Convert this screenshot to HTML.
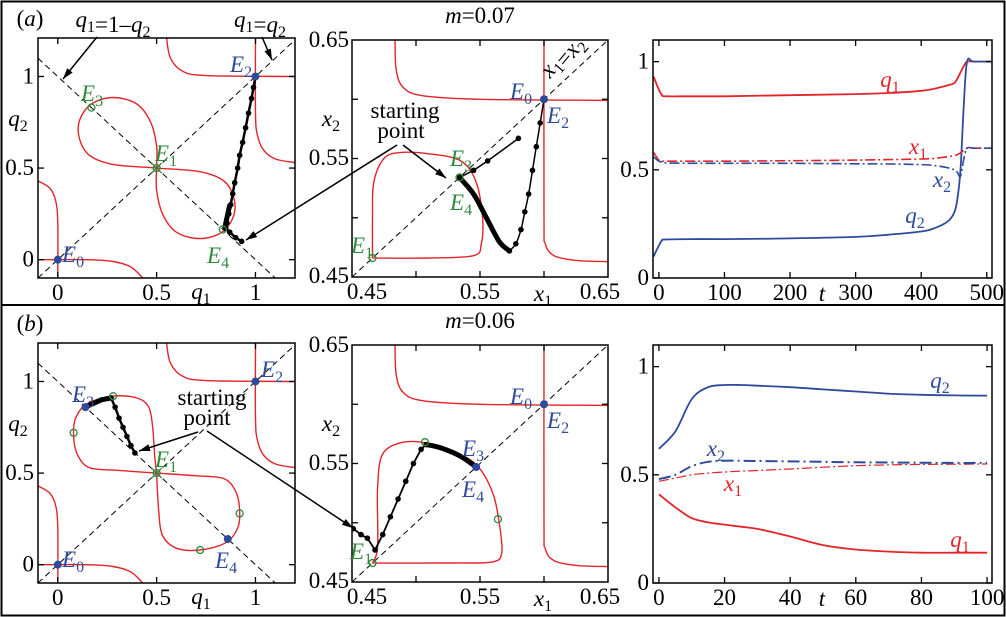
<!DOCTYPE html>
<html><head><meta charset="utf-8"><style>
body{margin:0;background:#fff}
svg{display:block}
svg text{font-family:"Liberation Serif","Times New Roman",serif !important}
</style></head><body>
<svg id="fig" width="1006" height="617" viewBox="0 0 1006 617" xmlns="http://www.w3.org/2000/svg">
<rect x="1.5" y="1.5" width="1003" height="614" fill="none" stroke="#000" stroke-width="2"/>
<line x1="1" y1="305" x2="1005" y2="305" stroke="#000" stroke-width="2"/>
</svg>
<script>
const RED='#e3242b',BLUE='#2e4a9c',GREEN='#2f8a3c';
// ---- data arrays ----
const aCornerBL1=[[0,-0.1],[0,0.2],[-0.01,0.32],[-0.04,0.39],[-0.1,0.43]];
const aCornerBL2=[[-0.1,0.0],[0.15,0],[0.28,-0.01],[0.37,-0.04],[0.43,-0.1]];
const aCornerTR1=[[0.55,1.21],[0.57,1.1],[0.63,1.03],[0.75,1.005],[1.2,1.0]];
const aCornerTR2=[[1.0,1.21],[1.0,0.8],[1.01,0.68],[1.04,0.6],[1.1,0.55],[1.2,0.53]];
const aLoopTop=[[0.5,0.5],[0.5,0.62],[0.47,0.75],[0.4,0.85],[0.28,0.885],[0.17,0.85],[0.11,0.76],[0.11,0.66],[0.16,0.57],[0.28,0.52],[0.5,0.5],[0.72,0.48],[0.84,0.43],[0.89,0.34],[0.89,0.24],[0.83,0.15],[0.72,0.115],[0.6,0.15],[0.53,0.25],[0.5,0.38],[0.5,0.5]];
const bLoop=[[0.5,0.5],[0.49,0.6],[0.48,0.75],[0.46,0.86],[0.4,0.91],[0.28,0.92],[0.15,0.88],[0.09,0.8],[0.08,0.7],[0.1,0.6],[0.16,0.53],[0.3,0.515],[0.5,0.5],[0.7,0.485],[0.84,0.47],[0.9,0.4],[0.92,0.3],[0.91,0.2],[0.85,0.12],[0.72,0.08],[0.6,0.09],[0.53,0.16],[0.51,0.3],[0.5,0.5]];
const aTraj=[[0.93,0.1],[0.9,0.12],[0.87,0.15],[0.85,0.17],[0.855,0.2],[0.865,0.25],[0.875,0.3],[0.885,0.36],[0.895,0.42],[0.91,0.5],[0.92,0.57],[0.935,0.64],[0.95,0.72],[0.965,0.8],[0.98,0.88],[0.99,0.94],[1,1]];
const bTraj=[[0.39,0.61],[0.37,0.65],[0.35,0.7],[0.33,0.75],[0.31,0.8],[0.29,0.86],[0.27,0.91],[0.22,0.9],[0.18,0.88],[0.14,0.86]];
// panel 2
const aL2=[[0.466,0.466],[0.466,0.5],[0.467,0.53],[0.475,0.55],[0.4875,0.555],[0.51,0.554],[0.535,0.548],[0.547,0.53],[0.552,0.5],[0.551,0.478],[0.545,0.468],[0.51,0.466],[0.466,0.466]];
const bL2=[[0.466,0.466],[0.47,0.48],[0.47,0.53],[0.474,0.558],[0.49,0.568],[0.51,0.567],[0.53,0.56],[0.548,0.548],[0.56,0.525],[0.565,0.5],[0.567,0.475],[0.56,0.467],[0.53,0.466],[0.466,0.466]];
const p2TL=[[0.4836,0.65],[0.4845,0.625],[0.49,0.61],[0.505,0.603],[0.55,0.6],[0.65,0.599]];
const p2BR=[[0.6,0.65],[0.6,0.5],[0.601,0.478],[0.608,0.468],[0.625,0.464],[0.65,0.463]];
const aTraj2a=[[0.58,0.567],[0.556,0.548],[0.545,0.54],[0.534,0.534]];
const aTraj2b=[[0.534,0.534],[0.545,0.52],[0.555,0.5],[0.565,0.48],[0.573,0.472],[0.578,0.478],[0.582,0.49],[0.585,0.505],[0.588,0.52],[0.591,0.54],[0.594,0.56],[0.597,0.58],[0.6,0.6]];
const bTraj2=[[0.451,0.495],[0.457,0.49],[0.462,0.487],[0.468,0.477],[0.474,0.49],[0.48,0.505],[0.486,0.52],[0.492,0.535],[0.498,0.55],[0.504,0.562],[0.508,0.566],[0.52,0.563],[0.535,0.556],[0.547,0.547]];
// panel 3 (a)
const tA=[-8,0,5,10,50,100,200,300,350,400,420,440,450,455,460,465,470,480,508];
const q1A=[0.93,0.87,0.845,0.84,0.84,0.84,0.845,0.85,0.855,0.865,0.875,0.89,0.9,0.92,0.95,0.98,1.0,1.0,1.0];
const q2A=[0.1,0.15,0.175,0.178,0.18,0.18,0.183,0.19,0.2,0.215,0.23,0.26,0.3,0.36,0.5,0.8,1.0,1.0,1.0];
const x1A=[0.58,0.545,0.54,0.54,0.54,0.54,0.542,0.545,0.547,0.55,0.553,0.56,0.565,0.57,0.578,0.59,0.6,0.6,0.6];
const x2A=[0.56,0.54,0.535,0.532,0.53,0.53,0.53,0.528,0.527,0.524,0.52,0.51,0.5,0.49,0.47,0.55,0.6,0.6,0.6];
// panel 3 (b)
const tB=[0,5,10,15,20,25,30,40,50,60,70,80,90,100];
const q1B=[0.41,0.35,0.3,0.28,0.27,0.26,0.25,0.215,0.175,0.155,0.145,0.14,0.14,0.14];
const q2B=[0.62,0.7,0.85,0.905,0.915,0.915,0.912,0.905,0.895,0.885,0.875,0.87,0.867,0.866];
const x1B=[0.47,0.485,0.5,0.508,0.513,0.517,0.52,0.527,0.535,0.542,0.546,0.548,0.549,0.55];
const x2B=[0.48,0.5,0.54,0.56,0.565,0.565,0.564,0.562,0.56,0.558,0.557,0.556,0.555,0.555];

const svg=document.getElementById('fig');
const NS='http://www.w3.org/2000/svg';
function el(tag,attrs,parent){const e=document.createElementNS(NS,tag);for(const k in attrs)e.setAttribute(k,attrs[k]);(parent||svg).appendChild(e);return e;}
function smooth(pts){let d='M'+pts[0][0].toFixed(1)+','+pts[0][1].toFixed(1);for(let i=0;i<pts.length-1;i++){const p0=pts[i-1]||pts[i],p1=pts[i],p2=pts[i+1],p3=pts[i+2]||p2;const c1=[p1[0]+(p2[0]-p0[0])/6,p1[1]+(p2[1]-p0[1])/6],c2=[p2[0]-(p3[0]-p1[0])/6,p2[1]-(p3[1]-p1[1])/6];d+='C'+c1.map(v=>v.toFixed(1))+' '+c2.map(v=>v.toFixed(1))+' '+p2.map(v=>v.toFixed(1));}return d;}
function lab(x,y,html,anchor,cls,color,name){const t=el('text',{x:x,y:y,'text-anchor':anchor||'middle',fill:color||'#000',style:"font-family:'Liberation Serif',serif;font-size:23px"+(cls&&cls.indexOf('it')>=0?';font-style:italic':'')});t.innerHTML=html;return t;}
function sub(v,s){return '<tspan style="font-style:italic">'+v+'</tspan><tspan style="font-size:16px" dy="5">'+s+'</tspan><tspan dy="-5"></tspan>';}

function panel(o){
  const g=el('g',{});
  
  
  const sx=v=>o.px0+(v-o.x0)*(o.px1-o.px0)/(o.x1-o.x0);
  const sy=v=>o.py1-(v-o.y0)*(o.py1-o.py0)/(o.y1-o.y0);
  const id='c'+o.name;
  const cp=el('clipPath',{id:id},g);el('rect',{x:o.px0,y:o.py0,width:o.px1-o.px0,height:o.py1-o.py0},cp);
  const inner=el('g',{'clip-path':'url(#'+id+')'},g);
  o.xt.forEach((v,i)=>{const x=sx(v);
    const t1=el('line',{x1:x,y1:o.py1,x2:x,y2:o.py1-6,stroke:'#000','stroke-width':1.3},g);
    el('line',{x1:x,y1:o.py0,x2:x,y2:o.py0+6,stroke:'#000','stroke-width':1.3},g);
    if(o.xl[i]!=='') lab(x,o.py1+22,o.xl[i],'middle','tk','#000','x-tick-label');});
  o.yt.forEach((v,i)=>{const y=sy(v);
    const t1=el('line',{x1:o.px0,y1:y,x2:o.px0+6,y2:y,stroke:'#000','stroke-width':1.3},g);
    el('line',{x1:o.px1,y1:y,x2:o.px1-6,y2:y,stroke:'#000','stroke-width':1.3},g);
    if(o.yl[i]!=='') lab(o.px0-4,y+7,o.yl[i],'end','tk','#000','y-tick-label');});
  const r=el('rect',{x:o.px0,y:o.py0,width:o.px1-o.px0,height:o.py1-o.py0,fill:'none',stroke:'#000','stroke-width':1.5},g);
  
  return {sx,sy,inner,g};
}
function curve(P,pts,color,w,name,dash){const p=el('path',{d:smooth(pts.map(q=>[P.sx(q[0]),P.sy(q[1])])),fill:'none',stroke:color,'stroke-width':w,'stroke-dasharray':dash||'none'},P.inner);return p;}
function poly(P,pts,color,w,name,dash){const p=el('polyline',{points:pts.map(q=>P.sx(q[0]).toFixed(1)+','+P.sy(q[1]).toFixed(1)).join(' '),fill:'none',stroke:color,'stroke-width':w,'stroke-dasharray':dash||'none'},P.inner);return p;}
function dots(P,pts,r,name){pts.forEach(q=>{const c=el('circle',{cx:P.sx(q[0]),cy:P.sy(q[1]),r:r,fill:'#000'},P.inner);});}
function mark(P,q,type,name){const x=P.sx(q[0]),y=P.sy(q[1]);let c;
  if(type==='fill'){c=el('circle',{cx:x,cy:y,r:4,fill:BLUE},P.g);}
  else{c=el('circle',{cx:x,cy:y,r:3.5,fill:'none',stroke:GREEN,'stroke-width':1.3},P.g);
    if(type==='x'){el('path',{d:`M${x-5},${y-5}L${x+5},${y+5}M${x-5},${y+5}L${x+5},${y-5}`,stroke:GREEN,'stroke-width':1.3},P.g);}}
  }
function arrow(x1,y1,x2,y2,name){const l=el('line',{x1,y1,x2,y2,stroke:'#000','stroke-width':1.5});
  const a=Math.atan2(y2-y1,x2-x1),L=11,W=3.5;const bx=x2-L*Math.cos(a),by=y2-L*Math.sin(a);
  const h=el('polygon',{points:`${x2},${y2} ${bx+W*Math.sin(a)},${by-W*Math.cos(a)} ${bx-W*Math.sin(a)},${by+W*Math.cos(a)}`,fill:'#000'});}

function phase1(dy,loop,tag){
  const P=panel({name:'phase-q-'+tag,x0:-0.1,x1:1.2,y0:-0.1,y1:1.21,px0:38,px1:295,py0:38+dy,py1:278+dy,xt:[0,0.5,1],xl:['0','0.5','1'],yt:[0,0.5,1],yl:['0','0.5','1']});
  poly(P,[[-0.1,-0.1],[1.25,1.25]],'#000',1,'diagonal-q1-eq-q2','6,4');poly(P,[[-0.1,1.1],[1.2,-0.2]],'#000',1,'diagonal-q1-eq-1-minus-q2','6,4');
  [aCornerBL1,aCornerBL2,aCornerTR1,aCornerTR2].forEach(c=>curve(P,c,RED,1.4,'nullcline'));
  curve(P,loop,RED,1.4,'nullcline-loop');
  return P;
}
const zip=(t,v)=>t.map((x,i)=>[x,v[i]]);
// ===== Row (a) =====
let P=phase1(0,aLoopTop,'a');
poly(P,aTraj,'#000',2.5,'trajectory');dots(P,aTraj,2.8,'trajectory-point');
poly(P,[[0.845,0.17],[0.85,0.2],[0.86,0.25],[0.87,0.3]],'#000',5,'trajectory-slow');
mark(P,[0,0],'fill','E0-point');mark(P,[1,1],'fill','E2-point');mark(P,[0.5,0.5],'x','E1-point');mark(P,[0.17,0.83],'o','E3-point');mark(P,[0.835,0.165],'o','E4-point');
lab(62,262,sub('E','0'),'start','tk',BLUE,'E0-label');lab(230,72,sub('E','2'),'start','tk',BLUE,'E2-label');
lab(155,161,sub('E','1'),'start','tk',GREEN,'E1-label');lab(81,101,sub('E','3'),'start','tk',GREEN,'E3-label');lab(207,263,sub('E','4'),'start','tk',GREEN,'E4-label');
lab(201,299,sub('q','1'),'middle','tk','#000','x-axis-title');lab(18,126,sub('q','2'),'middle','tk','#000','y-axis-title');
lab(30,26,'(<tspan style="font-style:italic">a</tspan>)','middle','tk','#000','panel-a-label');
lab(113,27,sub('q','1')+'=1–'+sub('q','2'),'middle','tk','#000','annotation-antidiagonal');
lab(260,27,sub('q','1')+'='+sub('q','2'),'middle','tk','#000','annotation-diagonal');
arrow(97,37,63,79,'arrow-antidiagonal');arrow(262,37,272,60,'arrow-diagonal');

P=panel({name:'phase-x-a',x0:0.45,x1:0.65,y0:0.45,y1:0.65,px0:352,px1:608,py0:40,py1:277,xt:[0.5,0.55,0.6],xl:['','',''],yt:[0.5,0.55,0.6],yl:['','','']});
poly(P,[[0.45,0.45],[0.65,0.65]],'#000',1,'diagonal-x1-eq-x2','6,4');
curve(P,aL2,RED,1.4,'nullcline-loop');curve(P,p2TL,RED,1.4,'nullcline');curve(P,p2BR,RED,1.4,'nullcline');
poly(P,aTraj2a,'#000',1.5,'trajectory');dots(P,aTraj2a,2.8,'trajectory-point');
curve(P,aTraj2b.slice(0,5),'#000',5,'trajectory-slow');curve(P,aTraj2b.slice(4),'#000',1.5,'trajectory-fast');dots(P,aTraj2b.slice(4),2.8,'trajectory-point');
mark(P,[0.6,0.6],'fill','E0-E2-point');mark(P,[0.534,0.534],'o','E3-E4-point');mark(P,[0.466,0.466],'o','E1-point');
lab(510,99,sub('E','0'),'start','tk',BLUE,'E0-label');lab(547,123,sub('E','2'),'start','tk',BLUE,'E2-label');
lab(450,166,sub('E','3'),'start','tk',GREEN,'E3-label');lab(450,210,sub('E','4'),'start','tk',GREEN,'E4-label');lab(351,253,sub('E','1'),'start','tk',GREEN,'E1-label');
lab(480,23,'<tspan style="font-style:italic">m</tspan>=0.07','middle','tk','#000','panel-title');
['0.65','0.55','0.45'].forEach((s,i)=>lab(349,[47,165,283][i],s,'end','tk','#000','y-tick-label'));
lab(367,299,'0.45','middle','tk','#000','x-tick-label');lab(480,299,'0.55','middle','tk','#000','x-tick-label');lab(600,299,'0.65','middle','tk','#000','x-tick-label');
lab(543,301,sub('x','1'),'middle','tk','#000','x-axis-title');lab(331,126,sub('x','2'),'middle','tk','#000','y-axis-title');
lab(405,118,'starting','middle','tk','#000','starting-point-label');lab(401,138,'point','middle','tk','#000','starting-point-label');
arrow(397,145,246,240,'arrow-start-to-q');arrow(403,145,446,178,'arrow-start-to-x');
const xl=lab(566,60,sub('x','1')+'='+sub('x','2'),'middle','tk','#000','annotation-diagonal');xl.setAttribute('transform','rotate(-50 566 60)');

P=panel({name:'time-series-a',x0:-9,x1:508,y0:0,y1:1.1,px0:653,px1:992,py0:40,py1:278,xt:[0,100,200,300,400,500],xl:['0','100','200','300','400','500'],yt:[0,0.5,1],yl:['0','0.5','1']});
curve(P,zip(tA,q1A),RED,1.8,'series-q1');curve(P,zip(tA,q2A),BLUE,1.8,'series-q2');
curve(P,zip(tA,x1A),RED,1.6,'series-x1','10,3,2,3');curve(P,zip(tA,x2A),BLUE,1.6,'series-x2','10,3,2,3');
lab(890,87,sub('q','1'),'middle','tk',RED,'label-q1');lab(918,154,sub('x','1'),'middle','tk',RED,'label-x1');lab(942,187,sub('x','2'),'middle','tk',BLUE,'label-x2');lab(915,223,sub('q','2'),'middle','tk',BLUE,'label-q2');
lab(822,301,'t','middle','tk it','#000','x-axis-title');

// ===== Row (b) =====
P=phase1(305,bLoop,'b');
poly(P,bTraj.slice(0,7),'#000',2.5,'trajectory');dots(P,bTraj.slice(0,7),2.8,'trajectory-point');poly(P,bTraj.slice(6),'#000',5,'trajectory-slow');
mark(P,[0,0],'fill','E0-point');mark(P,[1,1],'fill','E2-point');mark(P,[0.5,0.5],'x','E1-point');mark(P,[0.14,0.86],'fill','E3-point');mark(P,[0.86,0.14],'fill','E4-point');
[[0.28,0.92],[0.08,0.72],[0.92,0.28],[0.72,0.08]].forEach(q=>mark(P,q,'o','equilibrium-point'));
lab(62,567,sub('E','0'),'start','tk',BLUE,'E0-label');lab(261,377,sub('E','2'),'start','tk',BLUE,'E2-label');
lab(155,467,sub('E','1'),'start','tk',GREEN,'E1-label');lab(72,402,sub('E','3'),'start','tk',BLUE,'E3-label');lab(215,568,sub('E','4'),'start','tk',BLUE,'E4-label');
lab(201,604,sub('q','1'),'middle','tk','#000','x-axis-title');lab(18,431,sub('q','2'),'middle','tk','#000','y-axis-title');
lab(30,331,'(<tspan style="font-style:italic">b</tspan>)','middle','tk','#000','panel-b-label');
lab(212,405,'starting','middle','tk','#000','starting-point-label');lab(207,425,'point','middle','tk','#000','starting-point-label');
arrow(198,432,139,451,'arrow-start-to-q');arrow(207,431,353,528,'arrow-start-to-x');

P=panel({name:'phase-x-b',x0:0.45,x1:0.65,y0:0.45,y1:0.65,px0:352,px1:608,py0:345,py1:582,xt:[0.5,0.55,0.6],xl:['','',''],yt:[0.5,0.55,0.6],yl:['','','']});
poly(P,[[0.45,0.45],[0.65,0.65]],'#000',1,'diagonal-x1-eq-x2','6,4');
curve(P,bL2,RED,1.4,'nullcline-loop');curve(P,p2TL,RED,1.4,'nullcline');curve(P,p2BR,RED,1.4,'nullcline');
poly(P,bTraj2.slice(0,11),'#000',1.8,'trajectory');dots(P,bTraj2.slice(0,11),2.8,'trajectory-point');curve(P,bTraj2.slice(10),'#000',5,'trajectory-slow');
mark(P,[0.6,0.6],'fill','E0-E2-point');mark(P,[0.547,0.547],'fill','E3-E4-point');mark(P,[0.466,0.466],'o','E1-point');
[[0.507,0.568],[0.564,0.503]].forEach(q=>mark(P,q,'o','equilibrium-point'));
lab(510,404,sub('E','0'),'start','tk',BLUE,'E0-label');lab(547,428,sub('E','2'),'start','tk',BLUE,'E2-label');
lab(462,456,sub('E','3'),'start','tk',BLUE,'E3-label');lab(462,497,sub('E','4'),'start','tk',BLUE,'E4-label');lab(350,559,sub('E','1'),'start','tk',GREEN,'E1-label');
lab(480,328,'<tspan style="font-style:italic">m</tspan>=0.06','middle','tk','#000','panel-title');
['0.65','0.55','0.45'].forEach((s,i)=>lab(349,[352,470,588][i],s,'end','tk','#000','y-tick-label'));
lab(367,604,'0.45','middle','tk','#000','x-tick-label');lab(480,604,'0.55','middle','tk','#000','x-tick-label');lab(600,604,'0.65','middle','tk','#000','x-tick-label');
lab(543,606,sub('x','1'),'middle','tk','#000','x-axis-title');lab(331,431,sub('x','2'),'middle','tk','#000','y-axis-title');

P=panel({name:'time-series-b',x0:-1.8,x1:101.5,y0:0,y1:1.1,px0:653,px1:992,py0:345,py1:583,xt:[0,20,40,60,80,100],xl:['0','20','40','60','80','100'],yt:[0,0.5,1],yl:['0','0.5','1']});
curve(P,zip(tB,q1B),RED,1.8,'series-q1');curve(P,zip(tB,q2B),BLUE,1.8,'series-q2');
curve(P,zip(tB,x1B),RED,1.2,'series-x1','10,3,2,3');curve(P,zip(tB,x2B),BLUE,2,'series-x2','12,4,2,4');
lab(940,388,sub('q','2'),'middle','tk',BLUE,'label-q2');lab(716,456,sub('x','2'),'middle','tk',BLUE,'label-x2');lab(733,491,sub('x','1'),'middle','tk',RED,'label-x1');lab(960,547,sub('q','1'),'middle','tk',RED,'label-q1');
lab(822,606,'t','middle','tk it','#000','x-axis-title');
</script>
</body></html>
